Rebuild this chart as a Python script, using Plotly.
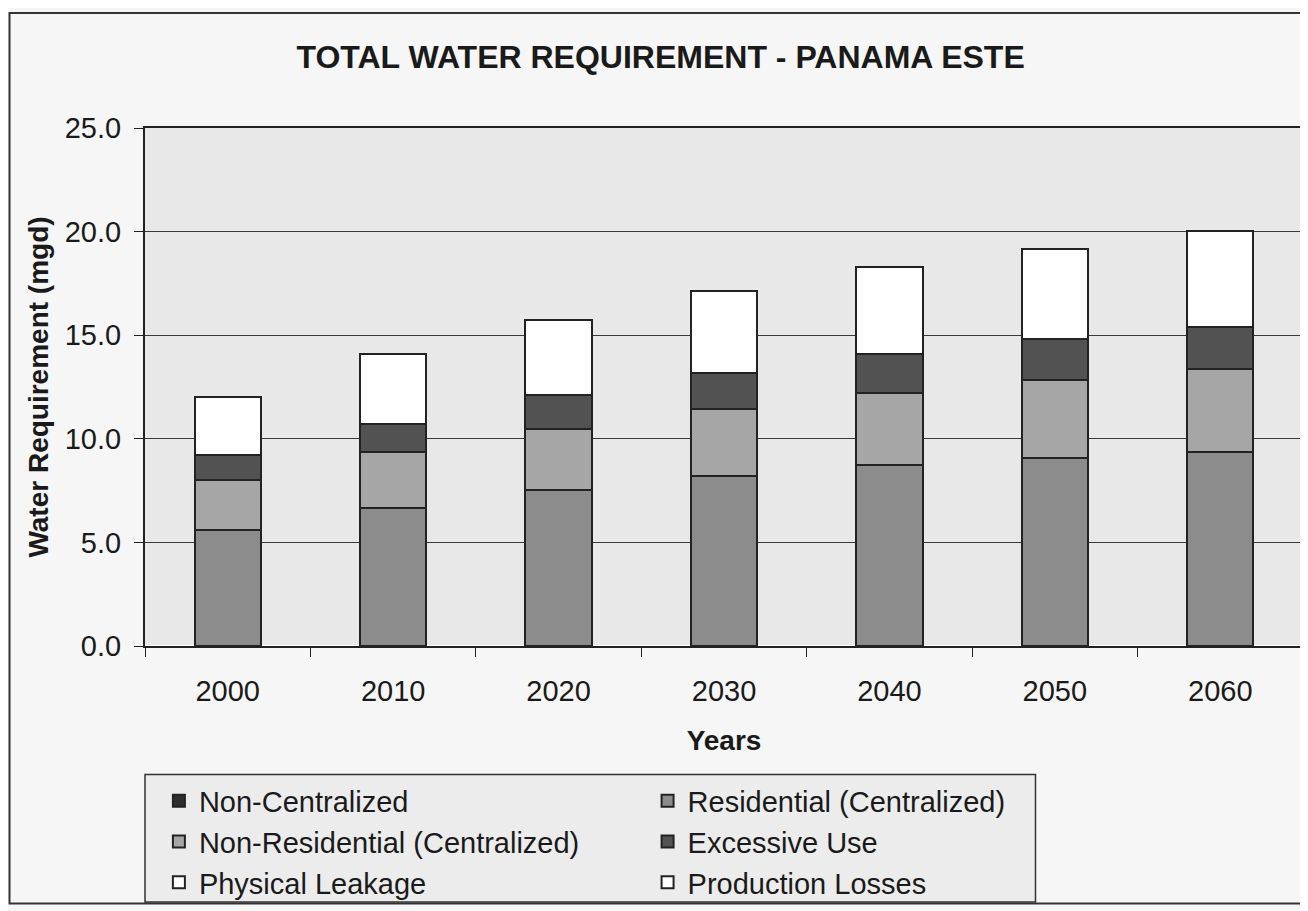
import plotly.graph_objects as go

years = ['2000', '2010', '2020', '2030', '2040', '2050', '2060']
non_centralized = [0, 0, 0, 0, 0, 0, 0]
residential = [5.58, 6.65, 7.54, 8.20, 8.72, 9.08, 9.38]
non_residential = [2.42, 2.69, 2.95, 3.24, 3.50, 3.77, 3.99]
excessive_use = [1.20, 1.39, 1.61, 1.76, 1.87, 1.95, 2.01]
physical_leakage = [2.80, 3.34, 3.61, 3.95, 4.20, 4.35, 4.67]
production_losses = [0, 0, 0, 0, 0, 0, 0]

# name, values, fill, legend column
series = [
    ('Non-Centralized', non_centralized, '#2e2e2e', 'legend'),
    ('Residential (Centralized)', residential, '#8c8c8c', 'legend2'),
    ('Non-Residential (Centralized)', non_residential, '#a6a6a6', 'legend'),
    ('Excessive Use', excessive_use, '#525252', 'legend2'),
    ('Physical Leakage', physical_leakage, '#ffffff', 'legend'),
    ('Production Losses', production_losses, '#ffffff', 'legend2'),
]

fig = go.Figure()
for name, vals, col, leg in series:
    fig.add_trace(go.Bar(
        x=years, y=vals, name=name, legend=leg,
        marker=dict(color=col, line=dict(color='#222222', width=2)),
        width=0.4,
    ))

font = 'Liberation Sans, Arial, sans-serif'
leg_style = dict(orientation='v', yanchor='top', xanchor='left',
                 bgcolor='rgba(0,0,0,0)', borderwidth=0,
                 font=dict(size=29), traceorder='normal', itemclick=False,
                 tracegroupgap=0)
fig.update_layout(
    barmode='stack',
    width=1300, height=903,
    margin=dict(l=137, r=3, t=120, b=263),
    paper_bgcolor='#f6f6f6',
    plot_bgcolor='#e8e8e8',
    font=dict(family=font, color='#1a1a1a'),
    title=dict(text='<b>TOTAL WATER REQUIREMENT - PANAMA ESTE</b>',
               x=0.502, xanchor='center', y=0.946, yanchor='middle',
               font=dict(size=32)),
    legend=dict(x=0.012, y=-0.25, **leg_style),
    legend2=dict(x=0.434, y=-0.25, **leg_style),
    showlegend=True,
)
fig.update_xaxes(
    type='category', showline=True, linecolor='#222222', linewidth=2, mirror=True,
    ticks='outside', tickson='boundaries', ticklen=9, tickcolor='#222222',
    tickfont=dict(size=29), ticklabelstandoff=18,
    title=dict(text='<b>Years</b>', font=dict(size=28), standoff=25),
)
fig.update_yaxes(
    range=[0, 25], dtick=5, tickformat='.1f',
    showline=True, linecolor='#222222', linewidth=2, mirror=True,
    ticks='outside', ticklen=9, tickcolor='#222222',
    gridcolor='#3a3a3a', gridwidth=1,
    tickfont=dict(size=29), ticklabelstandoff=7,
    title=dict(text='<b>Water Requirement (mgd)</b>', font=dict(size=28), standoff=8),
)
# legend box
fig.add_shape(type='rect', xref='paper', yref='paper',
              x0=0, x1=0.769, y0=-0.494, y1=-0.248,
              line=dict(color='#333333', width=1.5), fillcolor='#ececec', layer='below')
# chart border
fig.add_shape(type='rect', xref='paper', yref='paper',
              x0=-0.117, x1=1.0017, y0=-0.497, y1=1.222,
              line=dict(color='#333333', width=2), layer='below')

fig.write_html('out.html')
